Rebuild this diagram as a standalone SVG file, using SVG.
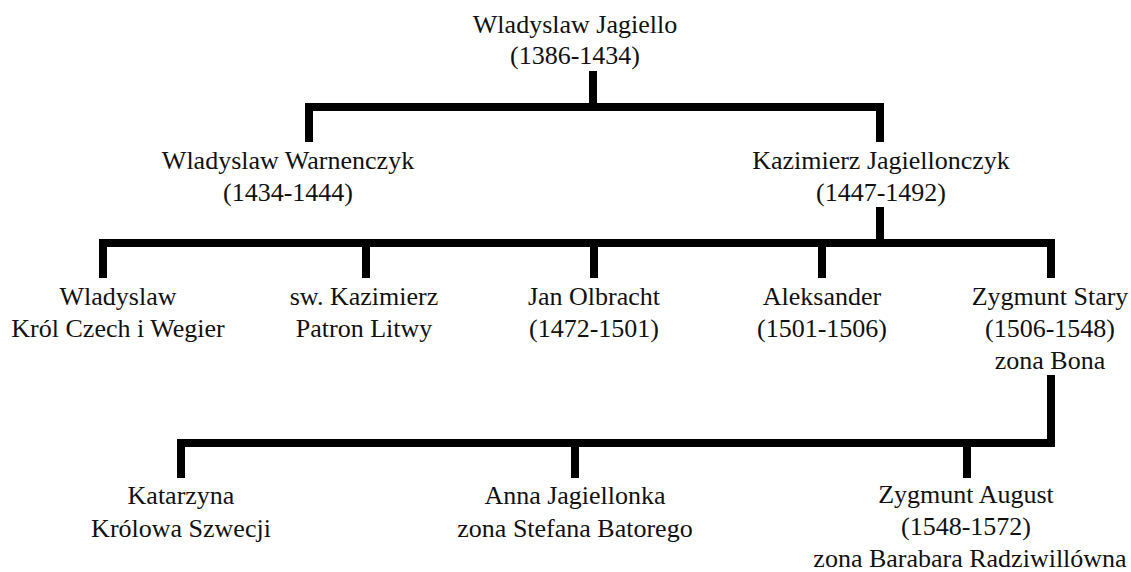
<svg xmlns="http://www.w3.org/2000/svg" width="1131" height="572" viewBox="0 0 1131 572">
<style>
.t{font-family:'Liberation Serif','Times New Roman',Times,'DejaVu Serif',serif;font-size:26px;fill:#111;text-anchor:middle}
.c{fill:none;stroke:#000;stroke-width:8;stroke-linejoin:miter}
</style>
<rect width="1131" height="572" fill="#fff"/>
<g id="connectors">
<path class="c" d="M593,71 V107"/>
<path class="c" d="M309,142 V107 H880 V142"/>
<path class="c" d="M880,207 V243"/>
<path class="c" d="M103,278 V243 H1051 V278"/>
<path class="c" d="M366,243 V278 M594,243 V278 M822,243 V278"/>
<path class="c" d="M181,478 V443 H1051 V375"/>
<path class="c" d="M575,443 V478 M967,443 V478"/>
</g>
<g class="t">
<g id="n-jagiello"><text x="575" y="33">Wladyslaw Jagiello</text><text x="575" y="64">(1386-1434)</text></g>
<g id="n-warnenczyk"><text x="288" y="169">Wladyslaw Warnenczyk</text><text x="288" y="201">(1434-1444)</text></g>
<g id="n-jagiellonczyk"><text x="881" y="169">Kazimierz Jagiellonczyk</text><text x="881" y="201">(1447-1492)</text></g>
<g id="n-wladyslaw"><text x="118" y="305">Wladyslaw</text><text x="118" y="337">Król Czech i Wegier</text></g>
<g id="n-kazimierz"><text x="364" y="305">sw. Kazimierz</text><text x="364" y="337">Patron Litwy</text></g>
<g id="n-olbracht"><text x="594" y="305">Jan Olbracht</text><text x="594" y="337">(1472-1501)</text></g>
<g id="n-aleksander"><text x="822" y="305">Aleksander</text><text x="822" y="337">(1501-1506)</text></g>
<g id="n-stary"><text x="1050" y="305">Zygmunt Stary</text><text x="1050" y="337">(1506-1548)</text><text x="1050" y="369">zona Bona</text></g>
<g id="n-katarzyna"><text x="181" y="504">Katarzyna</text><text x="181" y="537">Królowa Szwecji</text></g>
<g id="n-anna"><text x="575" y="504">Anna Jagiellonka</text><text x="575" y="537">zona Stefana Batorego</text></g>
<g id="n-august"><text x="966" y="503">Zygmunt August</text><text x="966" y="535">(1548-1572)</text><text x="970" y="567">zona Barabara Radziwillówna</text></g>
</g>
</svg>
